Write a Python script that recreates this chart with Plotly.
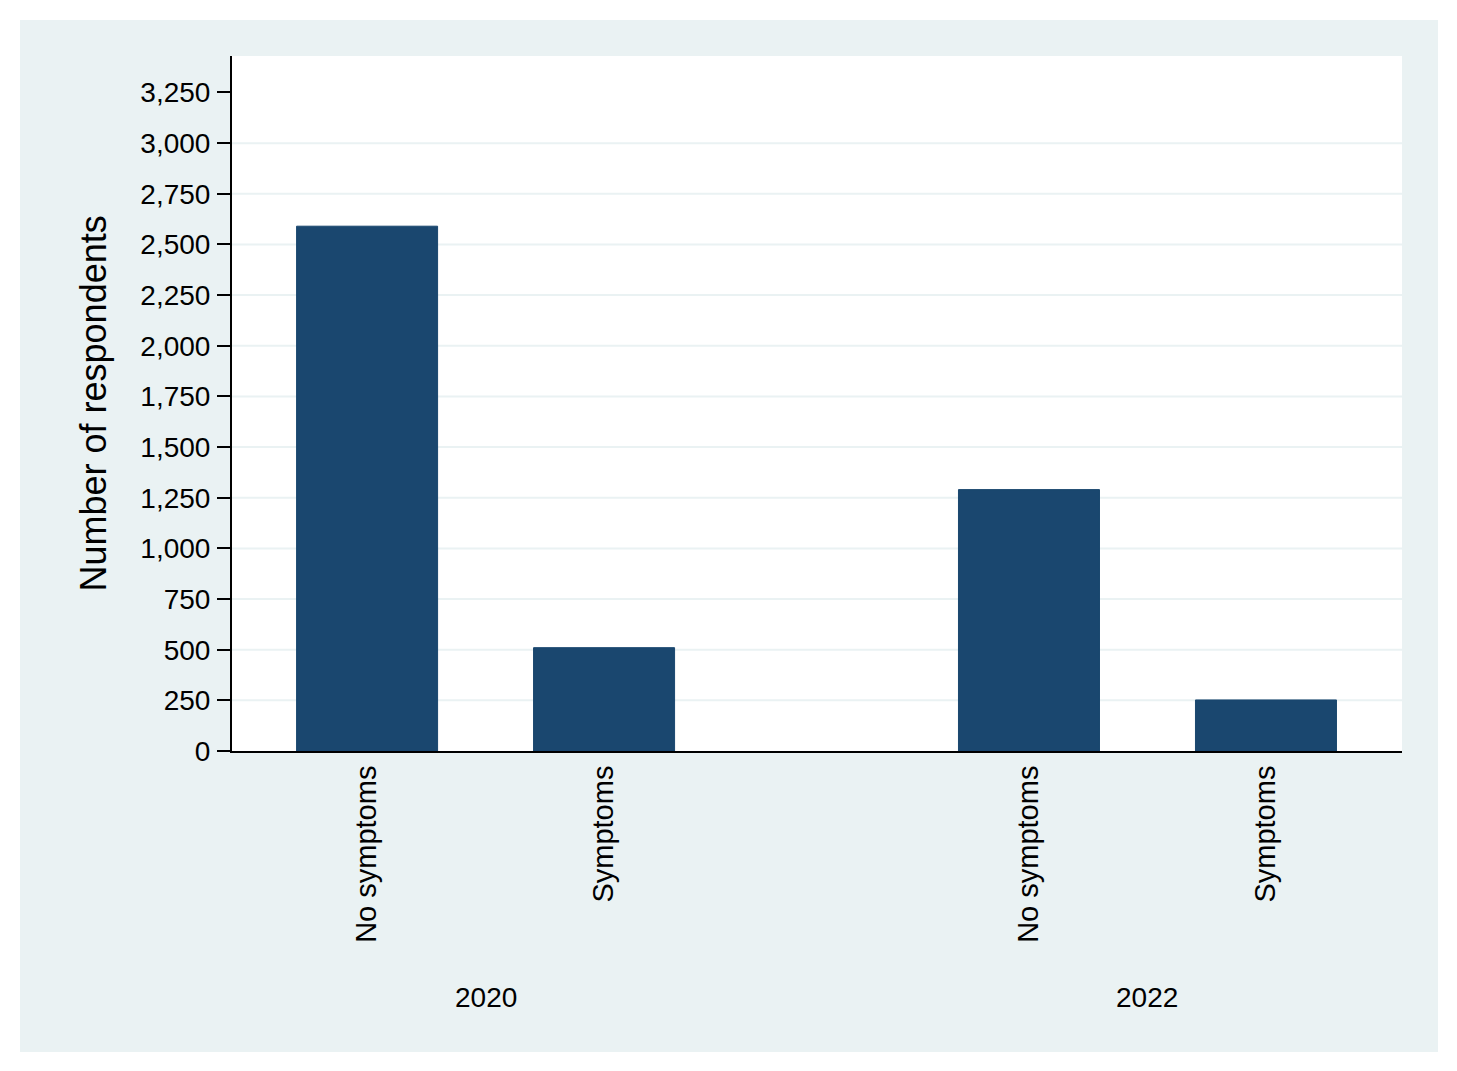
import plotly.graph_objects as go

years = ["2020", "2022"]
groups_cat = ["No symptoms", "Symptoms"]
values_2020 = [2590, 510]
values_2022 = [1290, 252]
y_ticks = [0, 250, 500, 750, 1000, 1250, 1500, 1750, 2000, 2250, 2500, 2750, 3000, 3250]
grid_vals = [250, 500, 750, 1000, 1250, 1500, 1750, 2000, 2250, 2500, 2750, 3000]

BAR = "#1a476f"
BG = "#eaf2f3"
FONT = "Liberation Sans, Arial, sans-serif"

group_gap = 2.793  # layout spacing between group starts
xs, ys, labels = [], [], []
for gi, vals in enumerate([values_2020, values_2022]):
    for ci, v in enumerate(vals):
        xs.append(gi * group_gap + ci)
        ys.append(v)
        labels.append(groups_cat[ci])

fig = go.Figure()
fig.add_trace(go.Bar(x=xs, y=ys, width=0.595, marker=dict(color=BAR, line=dict(color=BAR, width=1)),
                     showlegend=False, hoverinfo="y"))

shapes = [
    dict(type="rect", xref="paper", yref="paper", x0=-(232-20)/1170, x1=(1438-232)/1170,
         y0=-(1052-751)/695, y1=(751-20)/695, fillcolor=BG, line=dict(width=0), layer="below"),
    dict(type="rect", xref="paper", yref="paper", x0=0, x1=1, y0=0, y1=1,
         fillcolor="white", line=dict(width=0), layer="below"),
]
for g in grid_vals:
    shapes.append(dict(type="line", xref="paper", yref="y", x0=0, x1=1, y0=g, y1=g,
                       line=dict(color=BG, width=2), layer="below"))

annotations = []
for gi, yr in enumerate(years):
    annotations.append(dict(x=gi * group_gap + 0.5, y=-246/695, xref="x", yref="paper", text=yr,
                            showarrow=False, font=dict(size=28, color="#000", family=FONT),
                            xanchor="center", yanchor="middle"))
annotations.append(dict(x=-139/1170, y=0.5, xref="paper", yref="paper", text="Number of respondents",
                        textangle=-90, showarrow=False, font=dict(size=36, color="#000", family=FONT),
                        xanchor="center", yanchor="middle"))

fig.update_layout(
    width=1457, height=1071,
    margin=dict(l=232, r=55, t=56, b=320, autoexpand=False),
    paper_bgcolor="white", plot_bgcolor="white",
    shapes=shapes, annotations=annotations,
    font=dict(family=FONT, color="#000", size=28),
)
fig.update_xaxes(range=[-0.570, 4.367], tickvals=xs, ticktext=labels, tickangle=-90,
                 showgrid=False, zeroline=False, showline=True, linecolor="#000", linewidth=2,
                 ticks="", ticklabelstandoff=1, tickfont=dict(size=29, family=FONT, color="#000"))
fig.update_yaxes(range=[0, 3430], tickvals=y_ticks, ticktext=[f"{t:,}" for t in y_ticks],
                 showgrid=False, zeroline=False, showline=True, linecolor="#000", linewidth=2,
                 ticks="outside", ticklen=13, tickwidth=2, tickcolor="#000", ticklabelstandoff=1,
                 tickfont=dict(size=28, family=FONT, color="#000"))

fig.write_html("out.html")
